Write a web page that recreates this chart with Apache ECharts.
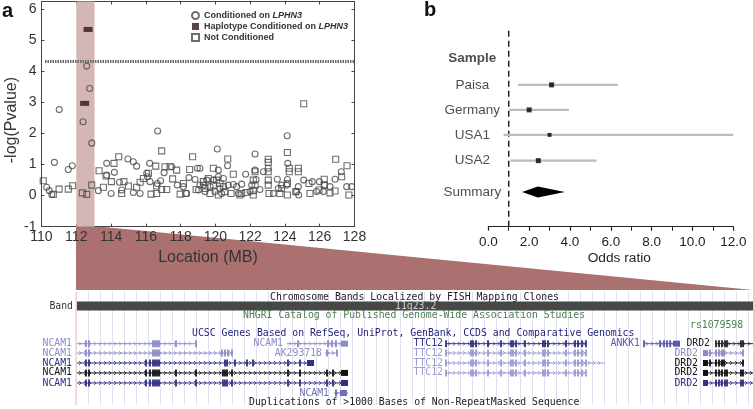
<!DOCTYPE html>
<html><head><meta charset="utf-8">
<style>html,body{margin:0;padding:0;background:#fff}#c{width:753px;height:409px}</style>
<script src="https://cdn.jsdelivr.net/npm/echarts@6/dist/echarts.min.js"></script>
</head><body><div id="c"></div>
<script>
// Panel a data: [location MB, -log(P)]
const conditioned = [[111.02,2.77],[112.6,4.17],[112.77,3.45],[112.39,2.38],[116.68,2.08],[124.13,1.93],
[110.74,1.07],[111.54,.84],[111.77,.96],[112.89,1.69],[110.30,.27],[110.45,.16],[110.59,.04],[113.27,.16],[114.0,.07],[113.75,1.04],[114.19,.75],[114.97,1.18],[115.28,1.09],[115.47,.95],[114.61,.18],[114.48,.43],[115.28,.10],[115.67,.07],[116.22,1.04],[116.05,.72],[116.09,.61],[116.24,.45],[116.66,.39],[116.85,.48],[117.05,.74],[117.49,.93],[117.81,.34],[118.16,.29],[118.48,.58],[118.83,.52],[118.96,.88],[118.35,.07],[119.02,.18],[113.75,.66],
[120.11,1.50],[122.28,1.34],[120.70,.96],[119.11,.88],[120.17,.82],[124.16,1.04],[121.74,.69],[122.28,.82],[122.76,.77],[123.04,.88],[122.34,.52],[121.03,.36],[121.51,.37],[122.09,.34],[123.56,.53],[124.14,.52],[124.77,.29],[124.67,.13],[125.08,.50],[125.57,.45],[125.98,.45],[126.28,.34],[126.59,.29],[126.88,.53],[127.24,.77],[127.55,.29],[124.79,.02],[122.56,.20],[123.33,.07],[123.81,.34],[120.17,.61],[119.88,.50],[119.50,.50],[119.31,.34],[120.46,.55],[120.74,.34],[121.32,.07],[121.99,.13],[125.82,.13],[127.84,.29],[124.10,.34],[119.11,.34],[119.69,.29],[120.26,.23],[119.40,.13],[119.98,.13],[120.36,.07],[121.22,.29],[123.62,.23],[126.21,.13]];
const notConditioned = [[125.08,2.96],[110.10,.48],[111.01,.21],[111.54,.21],[111.79,.32],[112.35,.09],[112.6,.04],[112.89,.34],[113.31,.80],[113.56,.27],[113.71,.63],[114.02,.45],[114.17,1.04],[114.44,1.25],[114.74,.45],[115.0,.31],[114.61,.07],[115.47,.27],[115.67,.43],[115.86,.55],[116.15,.72],[116.57,.95],[116.91,1.44],[116.62,.31],[116.30,.05],[116.62,.07],[116.91,.20],[117.20,.20],[117.54,.54],[117.10,.93],[117.39,.93],[117.77,.82],[118.52,.84],[118.69,1.25],[118.16,.39],[117.97,.05],[118.29,.07],[118.89,.20],[110.68,.04],
[120.71,1.18],[123.04,1.17],[123.04,1.07],[124.14,1.39],[126.92,1.17],[127.57,.96],[124.25,.88],[124.25,.77],[124.77,.88],[124.77,.77],[119.88,.88],[121.03,.69],[122.28,.77],[123.04,.77],[122.28,.34],[123.04,.50],[119.59,.55],[119.31,.45],[119.69,.07],[120.17,.02],[120.55,.13],[120.90,.07],[121.51,.07],[121.76,.10],[122.18,.02],[122.18,.16],[123.08,.07],[123.81,.23],[124.14,.02],[124.14,.39],[124.62,.13],[125.38,.39],[125.44,.07],[125.96,.18],[126.26,.53],[126.26,.34],[126.88,.15],[126.59,.09],[127.26,.61],[127.68,.02],[119.88,.34],[120.07,.50],[120.46,.29],[121.41,.02],[123.71,.07],[120.26,.39],[119.40,.23],[123.04,.34],[122.18,.50]];
const haplotype = [[112.68,5.35],[112.48,2.97]];
const sigLevel = 4.32;
const regionStart = 112, regionEnd = 113.05;

// Panel b data
const samples = ['Sample','Paisa','Germany','USA1','USA2','Summary'];
const sampleRow = [6.6,5.56,4.58,3.6,2.59,1.36];
const orLow = [1.45,1.03,0.75,1.08];
const orHigh = [6.35,3.95,12,5.3];
const orPoint = [3.1,2.0,3.0,2.45];
const summaryX = [1.65,2.43,3.75,2.43];
const summaryDy = [0,0.22,0,-0.22];

// Genome browser tracks
const trackText = ['Chromosome Bands Localized by FISH Mapping Clones','Band','11q23.2','NHGRI Catalog of Published Genome-Wide Association Studies','rs1079598','UCSC Genes Based on RefSeq, UniProt, GenBank, CCDS and Comparative Genomics','Duplications of >1000 Bases of Non-RepeatMasked Sequence'];
const trackTextX = [194,-3,319,167,614,116,173];
const trackTextRow = [0.51,1.44,1.44,2.43,3.38,4.3,11.28];
const trackTextColor = ['#222','#333','#ccc','#4c7f4c','#4c7f4c','#1c1c78','#222'];
const geneNames = ['NCAM1','NCAM1','TTC12','ANKK1','DRD2','NCAM1','AK293718','TTC12','DRD2','NCAM1','TTC12','DRD2','NCAM1','TTC12','DRD2','NCAM1','DRD2','NCAM1'];
const geneRow = [5.3,5.3,5.3,5.3,5.3,6.26,6.26,6.26,6.26,7.28,7.28,7.28,8.3,8.3,8.3,9.33,9.33,10.36];
const geneStart = [1,211,370,568,640,1,249,370,627,1,370,627,1,370,627,1,627,258];
const geneEnd = [120,272,510,601,677,157,261,510,668,237,529,668,272,510,677,272,677,272];
const geneColor = ['#8c8cc8','#8c8cc8','#30307e','#5a5aa8','#222','#8c8cc8','#8c8cc8','#9a9ad0','#8c8cc8','#30307e','#9a9ad0','#111','#111','#9a9ad0','#111','#30307e','#30307e','#7070b8'];
const geneLabelEnd = [-4,207,367,564,634,-4,246,367,622,-4,367,622,-4,367,622,-4,622,253];
const exonsNcamA = [10,13,77,79,81,83,100,120];
const exonsNcamB = [222,252,256,260];
const exonsTtc = [370,395,397,400,412,425,435,437,440,449,467,469,472,490,499,502,506,510];
const exonsAnkk = [568,584,588,591,594];
const exonsDrdA = [640,643,646,649,651,665,667];
const exonsDrdB = [634,640,643,646,648,667];
const exonsNcamC = [10,13,77,79,81,83,146,149,152,156];
const exonsAk = [251,261];
const exonsNcamD = [10,13,70,74,77,79,81,83,149,151,159,171,177,212,224];
const exonsNcamE = [10,13,70,74,77,79,81,83,100,120,147,149,151,156,212,224,251,257];
const exonsNcamF = [260];
const geneExons = [exonsNcamA,exonsNcamB,exonsTtc,exonsAnkk,exonsDrdA,exonsNcamC,exonsAk,exonsTtc,exonsDrdB,exonsNcamD,exonsTtc,exonsDrdB,exonsNcamE,exonsTtc,exonsDrdA,exonsNcamE,exonsDrdA,exonsNcamF];
const geneBlockStart = [null,265,null,597,null,null,null,null,627,231,null,627,265,null,627,265,627,264];
const bandStart = 1, bandEnd = 677;

const wedgeColor = '#ab7070';
const SANS = '"Liberation Sans",Arial,sans-serif';
const MONO = '"DejaVu Sans Mono",monospace';
const chart = echarts.init(document.getElementById('c'), null, {renderer:'canvas'});
const dk = '#444';
const symStyle = {color:'rgba(255,255,255,0)',borderColor:'#4a4a4a',borderWidth:1.1};

function renderGene(params, api){
  const i = params.dataIndex, col = geneColor[i], r = geneRow[i];
  const y = api.coord([0,r])[1];
  const X = v => api.coord([v,r])[0];
  const children = [{type:'line',shape:{x1:X(geneStart[i]),y1:y,x2:X(geneEnd[i]),y2:y},style:{stroke:col,lineWidth:1}}];
  for(let v=geneStart[i]+3; v<geneEnd[i]-1; v+=5){
    const x=X(v);
    children.push({type:'polyline',shape:{points:[[x-1,y-2],[x+1,y],[x-1,y+2]]},style:{stroke:col,lineWidth:.8,fill:null}});
  }
  geneExons[i].forEach(v=>{
    if(v<geneStart[i]||v>geneEnd[i])return;
    children.push({type:'rect',shape:{x:X(v)-.9,y:y-3.5,width:1.8,height:7},style:{fill:col}});
  });
  if(geneBlockStart[i]!=null){
    const a=X(geneBlockStart[i]), b=X(geneBlockStart[i]+ (geneBlockStart[i]>600? 5:7));
    children.push({type:'rect',shape:{x:a,y:y-3,width:b-a,height:6},style:{fill:col}});
  }
  children.push({type:'text',style:{x:X(geneLabelEnd[i]),y:y,text:geneNames[i],fill:col,font:'9.8px '+MONO,align:'right',verticalAlign:'middle'}});
  return {type:'group',children};
}

const option = {
  animation:false,
  backgroundColor:'#fff',
  textStyle:{fontFamily:SANS},
  graphic:[
    {type:'polygon',z:-1,shape:{points:[[76,226],[94,226],[753,290],[76,290]]},style:{fill:wedgeColor}},
    {type:'text',left:2,top:1,style:{text:'a',font:'bold 20px '+SANS,fill:'#111'}},
    {type:'text',left:424,top:0,style:{text:'b',font:'bold 20px '+SANS,fill:'#111'}}
  ],
  legend:{
    left:191,top:11,orient:'vertical',itemWidth:7,itemHeight:7,itemGap:2,padding:0,
    selectedMode:false,
    data:['Conditioned on LPHN3','Haplotype Conditioned on LPHN3','Not Conditioned'],
    formatter:n=>{
      if(n==='Not Conditioned')return '{b|Not Conditioned}';
      return '{b|'+n.replace('LPHN3','')+'}{i|LPHN3}';
    },
    textStyle:{rich:{b:{fontWeight:'bold',fontSize:9,color:'#333',fontFamily:SANS},i:{fontWeight:'bold',fontStyle:'italic',fontSize:9,color:'#333',fontFamily:SANS}}}
  },
  grid:[
    {left:41.5,right:398.5,top:1.5,bottom:182.3,show:false,outerBoundsMode:'none'},
    {left:488.3,right:19.7,top:27,bottom:182.3,show:false,outerBoundsMode:'none'},
    {left:76,right:0,top:292,bottom:4,show:false,outerBoundsMode:'none'}
  ],
  xAxis:[
    {gridIndex:0,type:'value',min:110,max:128,interval:2,
      axisLine:{onZero:false,lineStyle:{color:dk,width:1}},axisTick:{inside:true,length:3,lineStyle:{color:dk}},
      axisLabel:{color:'#333',fontSize:14,margin:3,fontFamily:SANS,hideOverlap:false},splitLine:{show:false},
      name:'Location (MB)',nameLocation:'middle',nameGap:23,nameTextStyle:{fontSize:16,color:'#333',fontFamily:SANS,padding:[0,0,0,20]}},
    {gridIndex:0,type:'value',position:'top',min:110,max:128,interval:2,
      axisLine:{onZero:false,lineStyle:{color:dk,width:1}},axisTick:{inside:true,length:3,lineStyle:{color:dk}},
      axisLabel:{show:false},splitLine:{show:false}},
    {gridIndex:1,type:'value',min:0,max:12,interval:2,
      axisLine:{onZero:false,lineStyle:{color:'#222',width:1.2}},axisTick:{inside:false,length:4,lineStyle:{color:'#222',width:1.2}},
      minorTick:{show:true,splitNumber:2,length:4,lineStyle:{color:'#222',width:1}},
      axisLabel:{color:'#222',fontSize:13.5,margin:9,fontFamily:SANS,formatter:v=>v.toFixed(1)},splitLine:{show:false},minorSplitLine:{show:false},
      name:'Odds ratio',nameLocation:'middle',nameGap:25,nameTextStyle:{fontSize:13.7,color:'#222',fontFamily:SANS,padding:[0,0,0,17]}},
    {gridIndex:2,type:'value',min:0,max:677,interval:12,
      axisLine:{show:false},axisTick:{show:false},axisLabel:{show:false},
      splitLine:{show:true,lineStyle:{color:'#e0dff0',width:1}}}
  ],
  yAxis:[
    {gridIndex:0,type:'value',min:-1,max:6.25,interval:1,
      axisLine:{show:true,onZero:false,lineStyle:{color:dk,width:1}},axisTick:{inside:true,length:3,lineStyle:{color:dk}},
      axisLabel:{color:'#333',fontSize:14,margin:5,fontFamily:SANS,hideOverlap:false,formatter:v=>Number.isInteger(v)?String(v):''},splitLine:{show:false},
      name:'-log(Pvalue)',nameLocation:'middle',nameGap:22,nameTextStyle:{fontSize:16,color:'#333',fontFamily:SANS,padding:[0,12,0,0]}},
    {gridIndex:0,type:'value',position:'right',min:-1,max:6.25,interval:1,
      axisLine:{show:true,onZero:false,lineStyle:{color:dk,width:1}},axisTick:{inside:true,length:3,lineStyle:{color:dk}},
      axisLabel:{show:false},splitLine:{show:false}},
    {gridIndex:1,type:'value',min:0,max:7.83,show:false},
    {gridIndex:2,type:'value',min:0,max:11.59,inverse:true,show:false}
  ],
  series:[
    {type:'line',xAxisIndex:0,yAxisIndex:0,data:[[110.2,sigLevel],[128,sigLevel]],symbol:'none',z:2,
      lineStyle:{color:'#6a6a6a',width:3,type:[1.5,1]},
      markArea:{silent:true,z:1,itemStyle:{color:'#d4b7b5',opacity:1},data:[[{xAxis:regionStart,yAxis:-1},{xAxis:regionEnd,yAxis:6.25}]]}},
    {name:'Conditioned on LPHN3',type:'scatter',xAxisIndex:0,yAxisIndex:0,data:conditioned,symbol:'circle',symbolSize:6,itemStyle:symStyle,z:3},
    {name:'Not Conditioned',type:'scatter',xAxisIndex:0,yAxisIndex:0,data:notConditioned,symbol:'rect',symbolSize:6,itemStyle:symStyle,z:3},
    {name:'Haplotype Conditioned on LPHN3',type:'scatter',xAxisIndex:0,yAxisIndex:0,data:haplotype,symbol:'rect',symbolSize:[9,5],itemStyle:{color:'#2f1515'},z:4},

    {type:'line',xAxisIndex:2,yAxisIndex:2,data:[[1,0],[1,7.83]],symbol:'none',lineStyle:{color:'#222',width:1.5,type:[6,4]},z:2},
    {type:'custom',xAxisIndex:2,yAxisIndex:2,data:orLow.map((v,i)=>[v,orHigh[i],sampleRow[i+1]]),encode:{x:[0,1],y:2},z:3,clip:false,
      renderItem:(p,api)=>{
        const a=api.coord([api.value(0),api.value(2)]),b=api.coord([api.value(1),api.value(2)]);
        return {type:'line',shape:{x1:a[0],y1:a[1],x2:b[0],y2:b[1]},style:{stroke:'#bcbcbc',lineWidth:2.2}};
      }},
    {type:'scatter',xAxisIndex:2,yAxisIndex:2,data:orPoint.map((v,i)=>[v,sampleRow[i+1]]),symbol:'rect',symbolSize:(v,p)=>p.dataIndex===2?4:5,itemStyle:{color:'#000'},z:4},
    {type:'custom',xAxisIndex:2,yAxisIndex:2,data:[0],z:4,clip:false,
      renderItem:(p,api)=>({type:'polygon',shape:{points:summaryX.map((x,i)=>api.coord([x,sampleRow[5]+summaryDy[i]]))},style:{fill:'#000'}})},
    {type:'scatter',xAxisIndex:2,yAxisIndex:2,data:samples.map((s,i)=>[0,sampleRow[i]]),symbolSize:1,itemStyle:{color:'rgba(255,255,255,0)'},z:5,
      label:{show:true,position:'inside',offset:[-16,0],align:'center',verticalAlign:'middle',fontSize:13.5,color:'#222',fontFamily:SANS,
        formatter:p=>p.dataIndex===0?'{s|'+samples[0]+'}':samples[p.dataIndex],
        rich:{s:{fontWeight:'bold',fontSize:13.5,color:'#222',fontFamily:SANS}}}},

    {type:'custom',xAxisIndex:3,yAxisIndex:3,data:[0],z:2,clip:false,
      renderItem:(p,api)=>{
        const a=api.coord([0,0]),b=api.coord([0,11.59]);
        return {type:'line',shape:{x1:a[0],y1:a[1],x2:b[0],y2:b[1]},style:{stroke:'#f2cccc',lineWidth:1.2}};
      }},
    {type:'custom',xAxisIndex:3,yAxisIndex:3,data:[0],z:2,clip:false,
      renderItem:(p,api)=>{
        const a=api.coord([bandStart,1.44]),b=api.coord([bandEnd,1.44]);
        return {type:'rect',shape:{x:a[0],y:a[1]-4.5,width:b[0]-a[0],height:9},style:{fill:'#474747'}};
      }},
    {type:'custom',xAxisIndex:3,yAxisIndex:3,data:geneNames.map((n,i)=>[geneStart[i],geneRow[i]]),z:3,clip:false,renderItem:renderGene},
    {type:'custom',xAxisIndex:3,yAxisIndex:3,data:trackText.map((t,i)=>[trackTextX[i],trackTextRow[i]]),z:4,clip:false,
      renderItem:(p,api)=>{
        const i=p.dataIndex, c=api.coord([trackTextX[i],trackTextRow[i]]);
        return {type:'text',style:{x:c[0],y:c[1],text:trackText[i],fill:trackTextColor[i],font:'9.8px '+MONO,align:trackText[i]==='Band'?'right':'left',verticalAlign:'middle'}};
      }}
  ]
};
chart.setOption(option);
</script></body></html>
